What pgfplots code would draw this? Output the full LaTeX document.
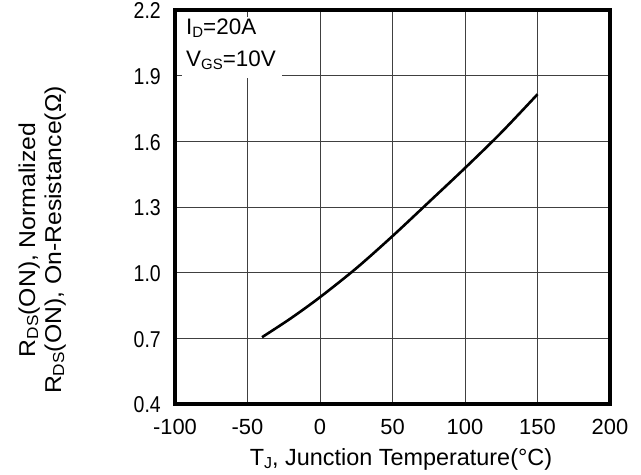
\documentclass[border=0pt]{standalone}
\usepackage{fontspec}
\setmainfont{Liberation Sans}
\newfontfamily\narrowfont{Liberation Sans}[FakeStretch=0.85]
\newfontfamily\widefont{Liberation Sans}[FakeStretch=1.08]
\usepackage{pgfplots}
\pgfplotsset{compat=1.18}
\newcommand{\sub}[2][15]{\raisebox{-0.25ex}{\fontsize{#1}{#1}\selectfont #2}}
\begin{document}
\begin{tikzpicture}
\useasboundingbox (0,0) rectangle (641bp,475bp);
\begin{axis}[
  at={(175bp,71bp)}, anchor=south west,
  scale only axis, width=435bp, height=394bp,
  xmin=-100, xmax=200, ymin=0.4, ymax=2.2,
  xtick={-100,-50,0,50,100,150,200},
  ytick={0.4,0.7,1.0,1.3,1.6,1.9,2.2},
  yticklabel style={/pgf/number format/fixed, /pgf/number format/fixed zerofill, /pgf/number format/precision=1},
  /pgf/number format/assume math mode=true,
  grid=major,
  major grid style={draw=black!75, line width=0.9bp},
  axis line style={line width=3.2bp},
  tick style={black!75, line width=0.9bp},
  major tick length=6bp, tick align=inside,
  xticklabel style={font=\fontsize{22}{24}\selectfont, anchor=base, inner sep=0pt, yshift=-31bp},
  yticklabel style={font=\narrowfont\fontsize{23}{25}\selectfont, anchor=base east, inner sep=0pt, xshift=-14bp, yshift=-9bp},
]
\addplot[black, line width=2.6bp, smooth] coordinates {
  (-40,0.705) (-20,0.792) (0,0.888) (25,1.020) (50,1.167)
  (75,1.322) (100,1.478) (125,1.640) (150,1.815)
};
\fill[white] (axis cs:-95.5,2.168) rectangle (axis cs:-26,1.888);
\node[anchor=base west, inner sep=0, font=\fontsize{22.5}{24}\selectfont]
  at (axis cs:-92.4,2.086) {I\sub{D}=20A};
\node[anchor=base west, inner sep=0, font=\fontsize{22.5}{24}\selectfont]
  at (axis cs:-92.4,1.940) {V\sub{GS}=10V};
\end{axis}
\node[anchor=base, inner sep=0, font=\fontsize{23.5}{25}\selectfont]
  at (401bp,10bp) {T\sub[16]{J}, Junction Temperature(°C)};
\node[anchor=base, inner sep=0, rotate=90, font=\widefont\fontsize{23}{25}\selectfont]
  at (35bp,235bp) {R\sub[16]{DS}(ON), Normalized};
\node[anchor=base, inner sep=0, rotate=90, font=\widefont\fontsize{23}{25}\selectfont]
  at (61bp,235bp) {R\sub[16]{DS}(ON), On-Resistance(Ω)};
\end{tikzpicture}
\end{document}
